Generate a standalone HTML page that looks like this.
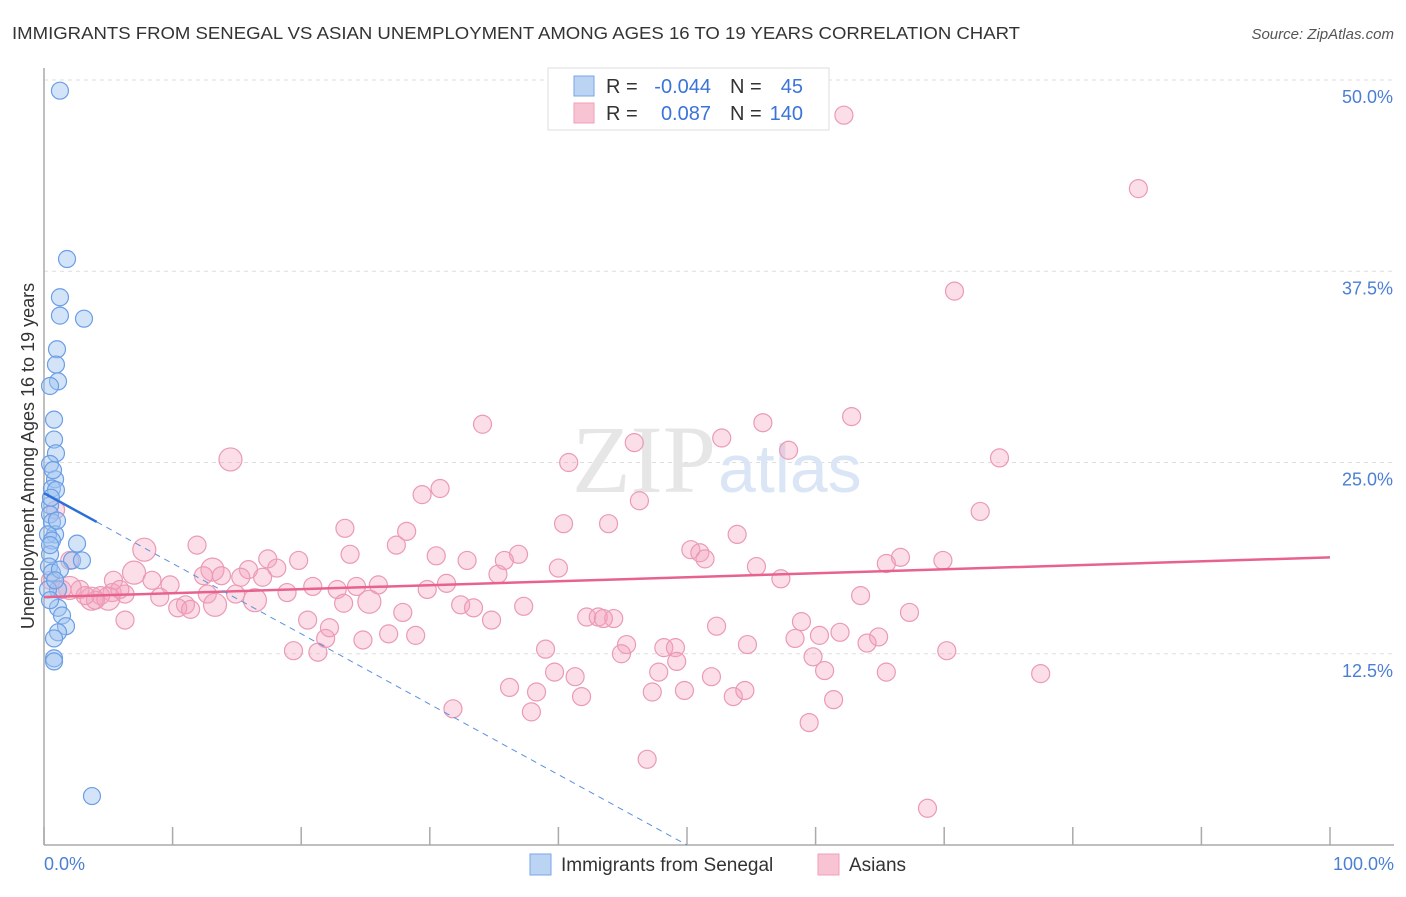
<!DOCTYPE html>
<html><head><meta charset="utf-8"><style>
body{margin:0;background:#fff;font-family:"Liberation Sans",sans-serif;}
</style></head><body>
<svg width="1406" height="892" viewBox="0 0 1406 892" xmlns="http://www.w3.org/2000/svg">
<text x="12" y="39" font-size="17.5" fill="#333" textLength="1008" lengthAdjust="spacingAndGlyphs">IMMIGRANTS FROM SENEGAL VS ASIAN UNEMPLOYMENT AMONG AGES 16 TO 19 YEARS CORRELATION CHART</text>
<text x="1394" y="39" font-size="15" fill="#555" font-style="italic" text-anchor="end">Source: ZipAtlas.com</text>
<g id="grid"></g>
<text x="716" y="492" font-size="96" font-family="Liberation Serif,serif" fill="#e6e6e6" text-anchor="end">ZIP</text>
<text x="718" y="492" font-size="68" fill="#dae6f5">atlas</text>
<line x1="44" y1="68" x2="44" y2="845" stroke="#aaa" stroke-width="1.5"/>
<line x1="44" y1="845" x2="1394" y2="845" stroke="#aaa" stroke-width="1.5"/>
<g id="xticks"></g>
<g id="ylabels"></g>
<text x="44" y="870" font-size="18" fill="#4a7fd4">0.0%</text>
<text x="1394" y="870" font-size="18" fill="#4a7fd4" text-anchor="end">100.0%</text>
<text transform="translate(34,456) rotate(-90)" font-size="18" fill="#333" text-anchor="middle">Unemployment Among Ages 16 to 19 years</text>
<g id="pink"></g>
<g id="blue"></g>
<g id="trends"></g>
<g>
<rect x="548" y="68" width="281" height="62" fill="#fff" stroke="#ddd"/>
<rect x="574" y="76" width="20" height="20" fill="#bcd4f4" stroke="#7aa6e6"/>
<rect x="574" y="103" width="20" height="20" fill="#f8c4d4" stroke="#eea0b8"/>
<g font-size="20" fill="#333">
<text x="606" y="93">R =</text><text x="711" y="93" text-anchor="end" fill="#3a74d8">-0.044</text>
<text x="730" y="93">N =</text><text x="803" y="93" text-anchor="end" fill="#3a74d8">45</text>
<text x="606" y="120">R =</text><text x="711" y="120" text-anchor="end" fill="#3a74d8">0.087</text>
<text x="730" y="120">N =</text><text x="803" y="120" text-anchor="end" fill="#3a74d8">140</text>
</g>
</g>
<g>
<rect x="530" y="854" width="21" height="21" fill="#bcd4f4" stroke="#7aa6e6"/>
<text x="561" y="871" font-size="19" fill="#333">Immigrants from Senegal</text>
<rect x="818" y="854" width="21" height="21" fill="#f8c4d4" stroke="#eea0b8"/>
<text x="849" y="871" font-size="19" fill="#333">Asians</text>
</g>
</svg>
<script>
const yTicks=[12.5,25,37.5,50];
const yTickLabels=["12.5%","25.0%","37.5%","50.0%"];
const xTickVals=[0,10,20,30,40,50,60,70,80,90,100];
const blueX=[1.24,1.79,1.24,3.11,1.24,1.01,0.93,1.09,0.47,0.78,0.78,0.93,0.47,0.86,0.62,0.93,0.47,0.47,0.62,0.86,0.31,0.62,2.57,2.18,2.95,0.47,0.39,0.62,1.09,0.31,1.09,1.40,1.71,1.09,0.78,0.78,0.78,3.73,1.24,0.86,0.47,0.47,1.01,0.54,0.70];
const blueY=[49.3,38.3,35.8,34.4,34.6,32.4,31.4,30.3,30.0,27.8,26.5,25.6,24.9,23.9,23.3,23.2,22.2,21.6,21.1,20.3,20.3,19.9,19.7,18.6,18.6,19.0,18.2,17.8,16.7,16.7,15.5,15.0,14.3,13.9,13.5,12.2,12.0,3.2,18.0,17.3,16.0,19.6,21.2,22.7,24.5];
const pinkX=[62.2,85.1,70.8,62.8,34.1,45.9,52.7,55.9,57.9,14.5,40.8,74.3,30.8,29.4,46.3,72.8,40.4,43.9,23.4,28.2,53.9,11.9,7.8,27.4,30.5,36.9,23.8,17.4,19.8,32.9,35.8,50.3,51.0,51.4,66.6,69.9,65.5,55.4,40.0,7.0,13.1,15.9,18.1,35.3,57.3,12.4,13.8,15.3,17.0,8.4,5.4,9.8,20.9,24.3,26.0,31.3,29.8,22.8,14.9,18.9,12.7,9.0,5.3,6.3,4.4,2.8,2.0,3.7,5.0,16.4,23.3,25.3,13.3,11.0,10.4,11.4,32.4,33.4,37.3,27.9,34.8,63.5,67.3,42.2,43.1,44.3,43.5,58.9,52.3,20.5,6.3,22.2,60.3,61.9,64.9,64.0,26.8,28.9,21.9,24.8,39.0,45.3,48.2,49.1,54.7,58.4,44.9,70.2,19.4,21.3,59.8,49.2,60.7,47.8,65.5,77.5,41.3,39.7,51.9,36.2,38.3,41.8,47.3,49.8,53.6,54.5,61.4,31.8,37.9,59.5,46.9,68.7,2.0,0.9,0.5,1.4,4.0,3.2,5.9];
const pinkY=[47.7,42.9,36.2,28.0,27.5,26.3,26.6,27.6,25.8,25.2,25.0,25.3,23.3,22.9,22.5,21.8,21.0,21.0,20.7,20.5,20.3,19.6,19.3,19.6,18.9,19.0,19.0,18.7,18.6,18.6,18.6,19.3,19.1,18.7,18.8,18.6,18.4,18.2,18.1,17.8,18.0,18.0,18.1,17.7,17.4,17.6,17.6,17.5,17.5,17.3,17.3,17.0,16.9,16.9,17.0,17.1,16.7,16.7,16.4,16.5,16.4,16.2,16.5,16.4,16.3,16.7,16.8,16.1,16.1,16.0,15.8,15.9,15.7,15.7,15.5,15.4,15.7,15.5,15.6,15.2,14.7,16.3,15.2,14.9,14.9,14.8,14.8,14.6,14.3,14.7,14.7,14.2,13.7,13.9,13.6,13.2,13.8,13.7,13.5,13.4,12.8,13.1,12.9,12.9,13.1,13.5,12.5,12.7,12.7,12.6,12.3,12.0,11.4,11.3,11.3,11.2,11.0,11.3,11.0,10.3,10.0,9.7,10.0,10.1,9.7,10.1,9.5,8.9,8.7,8.0,5.6,2.4,18.6,21.9,17.3,16.7,16.0,16.3,16.7];
const bigPink=[9,22,39,40,66,67,68,69,71,72];
const pinkTrend=[16.2,18.8];
const blueTrend=[23.0,-0.46];
const blueSolidEnd=4.1;

const NS="http://www.w3.org/2000/svg";
const X=v=>44+v*12.86;
const Y=v=>845-v*15.3;
function mk(tag,attrs,parent){const e=document.createElementNS(NS,tag);for(const k in attrs)e.setAttribute(k,attrs[k]);parent.appendChild(e);return e;}
const grid=document.getElementById('grid'),yl=document.getElementById('ylabels'),xt=document.getElementById('xticks');
yTicks.forEach((t,i)=>{
  const l=mk('line',{x1:44,x2:1394,y1:Y(t),y2:Y(t),stroke:'#ddd','stroke-dasharray':'4,4'},grid);
  
  
  const tx=mk('text',{x:1393,y:Y(t)+23,'font-size':18,fill:'#4a7fd4','text-anchor':'end'},yl);
  tx.textContent=yTickLabels[i];
  
  
});
xTickVals.forEach(v=>{
  const l=mk('line',{x1:X(v),x2:X(v),y1:827,y2:845,stroke:'#aaa','stroke-width':1.5},xt);
  
  
});
const pg=document.getElementById('pink');
pinkX.forEach((v,i)=>{
  const c=mk('circle',{cx:X(v),cy:Y(pinkY[i]),r:bigPink.includes(i)?11.5:9,fill:'rgba(244,160,188,0.35)',stroke:'#eb9ab4','stroke-width':1.2},pg);
  
  
});
const bg=document.getElementById('blue');
blueX.forEach((v,i)=>{
  const c=mk('circle',{cx:X(v),cy:Y(blueY[i]),r:8.5,fill:'rgba(160,196,240,0.45)',stroke:'#6a9ee6','stroke-width':1.2},bg);
  
  
});
const tg=document.getElementById('trends');
const pl=mk('line',{x1:X(0),y1:Y(pinkTrend[0]),x2:X(100),y2:Y(pinkTrend[1]),stroke:'#e8628e','stroke-width':2.5},tg);


const bz=-blueTrend[0]/blueTrend[1];
const bd=mk('line',{x1:X(blueSolidEnd),y1:Y(blueTrend[0]+blueTrend[1]*blueSolidEnd),x2:X(bz),y2:Y(0),stroke:'#5b8fe0','stroke-width':1,'stroke-dasharray':'6,5'},tg);


const bs=mk('line',{x1:X(0),y1:Y(blueTrend[0]),x2:X(blueSolidEnd),y2:Y(blueTrend[0]+blueTrend[1]*blueSolidEnd),stroke:'#2d6fd8','stroke-width':2.5},tg);


</script>
</body></html>
